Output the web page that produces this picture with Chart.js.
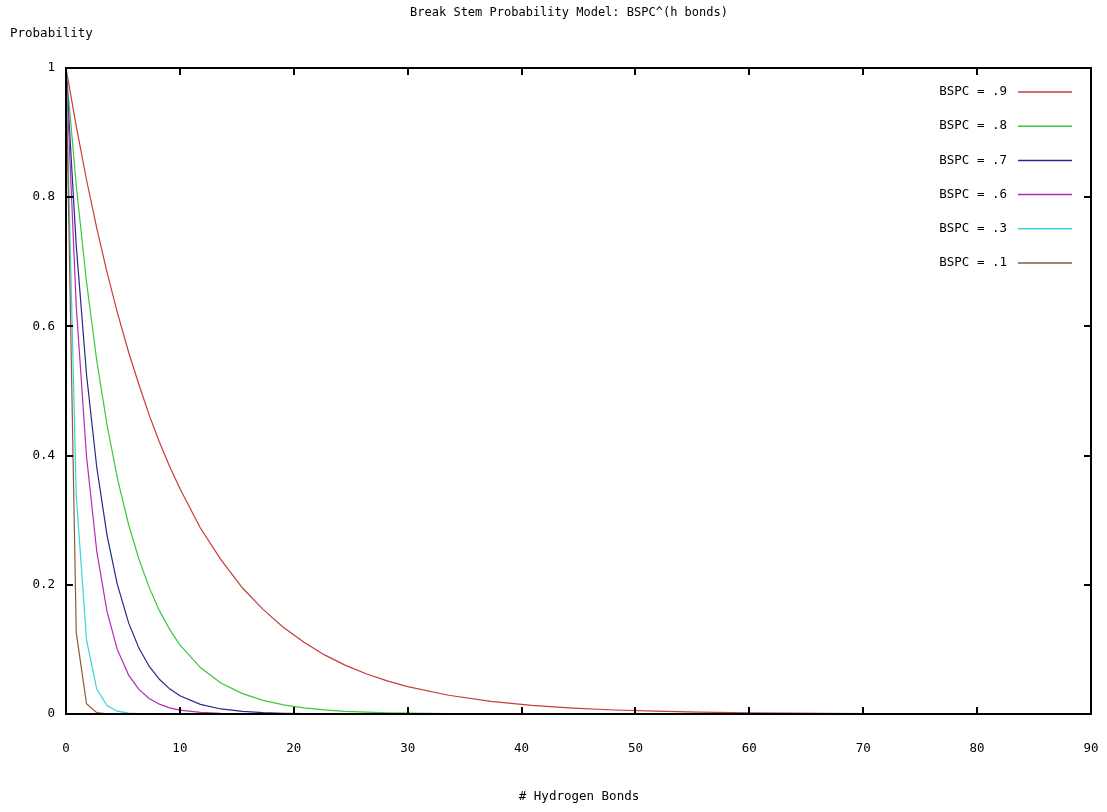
<!DOCTYPE html>
<html>
<head>
<meta charset="utf-8">
<title>Break Stem Probability Model</title>
<script src="https://cdn.jsdelivr.net/npm/chart.js@4/dist/chart.umd.min.js"></script>
<style>
  html, body { margin: 0; padding: 0; background: #fff; }
  #wrap { width: 1107px; height: 812px; position: relative; }
</style>
</head>
<body>
<div id="wrap"><canvas id="bspcChart" width="1107" height="812"></canvas></div>
<script>
// number of hydrogen bonds (x samples)
var hBonds = [0, 0.9, 1.8, 2.7, 3.6, 4.5, 5.5, 6.4, 7.3, 8.2, 9.1, 10, 11.8, 13.6, 15.5, 17.3,
    19.1, 20.9, 22.7, 24.5, 26.4, 28.2, 30, 33.6, 37.3, 40.9, 44.5, 48.2, 51.8, 55.5, 60, 70, 80, 90];

// break probability for each BSPC value
var bspc9 = [1, 0.910, 0.827, 0.752, 0.684, 0.622, 0.560, 0.510, 0.463, 0.421, 0.383, 0.349, 0.288, 0.239, 0.195, 0.162,
    0.134, 0.111, 0.0915, 0.0757, 0.0619, 0.0512, 0.0424, 0.0290, 0.0196, 0.0134, 0.0092, 0.0062, 0.0043, 0.0029, 0.0018, 0.0006, 0.0002, 0.0001];
var bspc8 = [1, 0.818, 0.669, 0.547, 0.448, 0.366, 0.293, 0.240, 0.196, 0.160, 0.131, 0.107, 0.0719, 0.0481, 0.0315, 0.0211,
    0.0141, 0.0094, 0.0063, 0.0042, 0.0028, 0.0018, 0.0012, 0.0006, 0.0002, 0.0001, 0, 0, 0, 0, 0, 0, 0, 0];
var bspc7 = [1, 0.725, 0.526, 0.382, 0.277, 0.201, 0.141, 0.102, 0.074, 0.0537, 0.0389, 0.0282, 0.0149, 0.0078, 0.0040, 0.0021,
    0.0011, 0.0006, 0.0003, 0.0002, 0.0001, 0, 0, 0, 0, 0, 0, 0, 0, 0, 0, 0, 0, 0];
var bspc6 = [1, 0.631, 0.399, 0.252, 0.159, 0.100, 0.0602, 0.0380, 0.0240, 0.0152, 0.0096, 0.0060, 0.0024, 0.0010, 0.0004, 0.0001,
    0, 0, 0, 0, 0, 0, 0, 0, 0, 0, 0, 0, 0, 0, 0, 0, 0, 0];
var bspc3 = [1, 0.338, 0.115, 0.0387, 0.0131, 0.0044, 0.0013, 0.0005, 0.0002, 0, 0, 0, 0, 0, 0, 0,
    0, 0, 0, 0, 0, 0, 0, 0, 0, 0, 0, 0, 0, 0, 0, 0, 0, 0];
var bspc1 = [1, 0.126, 0.0158, 0.0020, 0.0003, 0, 0, 0, 0, 0, 0, 0, 0, 0, 0, 0,
    0, 0, 0, 0, 0, 0, 0, 0, 0, 0, 0, 0, 0, 0, 0, 0, 0, 0];

var seriesNames = ['BSPC = .9', 'BSPC = .8', 'BSPC = .7', 'BSPC = .6', 'BSPC = .3', 'BSPC = .1'];
var seriesValues = [bspc9, bspc8, bspc7, bspc6, bspc3, bspc1];
var seriesColors = ['#c83c3c', '#3cc83c', '#28288c', '#b42cb4', '#3cd4d4', '#8c5a3c'];

var xTicks = [0, 10, 20, 30, 40, 50, 60, 70, 80, 90];
var yTicks = [0, 0.2, 0.4, 0.6, 0.8, 1];

var FONT = '"DejaVu Sans Mono", "Liberation Mono", monospace';

function toPoints(values) {
    return values.map(function (v, i) { return { x: hBonds[i], y: v }; });
}

var datasets = seriesValues.map(function (vals, i) {
    return {
        label: seriesNames[i],
        data: toPoints(vals),
        borderColor: seriesColors[i],
        borderWidth: 1.2,
        pointRadius: 0,
        tension: 0,
        fill: false,
        order: seriesValues.length - i
    };
});

// gnuplot-style frame: box border, inward ticks on all sides, legend, titles
var framePlugin = {
    id: 'frame',
    afterDraw: function (chart) {
        var ctx = chart.ctx;
        var a = chart.chartArea;
        var xs = chart.scales.x, ys = chart.scales.y;
        ctx.save();
        ctx.strokeStyle = '#000';
        ctx.lineWidth = 2;
        ctx.strokeRect(a.left, a.top, a.right - a.left, a.bottom - a.top);

        ctx.beginPath();
        xTicks.forEach(function (t) {
            var px = Math.round(xs.getPixelForValue(t));
            ctx.moveTo(px, a.bottom); ctx.lineTo(px, a.bottom - 7);
            ctx.moveTo(px, a.top); ctx.lineTo(px, a.top + 7);
        });
        yTicks.forEach(function (t) {
            var py = Math.round(ys.getPixelForValue(t));
            ctx.moveTo(a.left, py); ctx.lineTo(a.left + 7, py);
            ctx.moveTo(a.right, py); ctx.lineTo(a.right - 7, py);
        });
        ctx.stroke();

        // legend: label text followed by a line sample
        ctx.font = '12.5px ' + FONT;
        ctx.fillStyle = '#000';
        ctx.textAlign = 'right';
        ctx.textBaseline = 'middle';
        chart.data.datasets.forEach(function (ds, i) {
            var y = 92 + i * 34.2;
            ctx.fillText(ds.label, 1007, y);
            ctx.strokeStyle = ds.borderColor;
            ctx.lineWidth = 1.5;
            ctx.beginPath();
            ctx.moveTo(1018, y);
            ctx.lineTo(1072, y);
            ctx.stroke();
        });

        ctx.textAlign = 'center';
        ctx.fillText('# Hydrogen Bonds', 579, 797);
        ctx.textAlign = 'left';
        ctx.fillText('Probability', 10, 34);
        ctx.font = '12px ' + FONT;
        ctx.textAlign = 'center';
        ctx.fillText('Break Stem Probability Model: BSPC^(h bonds)', 569, 13);
        ctx.restore();
    }
};

new Chart(document.getElementById('bspcChart').getContext('2d'), {
    type: 'line',
    data: { datasets: datasets },
    options: {
        responsive: false,
        animation: false,
        layout: { padding: { top: 68, right: 16, bottom: 0, left: 0 } },
        plugins: {
            legend: { display: false },
            title: { display: false },
            tooltip: { enabled: false }
        },
        scales: {
            x: {
                type: 'linear',
                min: 0,
                max: 90,
                afterFit: function (s) {
                    s.height = 98;
                    s.paddingLeft = 0;
                    s.paddingRight = 0;
                },
                afterBuildTicks: function (s) { s.ticks = xTicks.map(function (v) { return { value: v }; }); },
                grid: { display: false, drawTicks: false },
                border: { display: false },
                ticks: {
                    padding: 27,
                    color: '#000',
                    font: { family: FONT, size: 12.5 }
                }
            },
            y: {
                type: 'linear',
                min: 0,
                max: 1,
                afterFit: function (s) {
                    s.width = 66;
                    s.paddingTop = 0;
                    s.paddingBottom = 0;
                },
                afterBuildTicks: function (s) { s.ticks = yTicks.map(function (v) { return { value: v }; }); },
                grid: { display: false, drawTicks: false },
                border: { display: false },
                ticks: {
                    padding: 11,
                    color: '#000',
                    font: { family: FONT, size: 12.5 },
                    callback: function (v) { return String(Math.round(v * 10) / 10); }
                }
            }
        }
    },
    plugins: [framePlugin]
});
</script>
</body>
</html>
